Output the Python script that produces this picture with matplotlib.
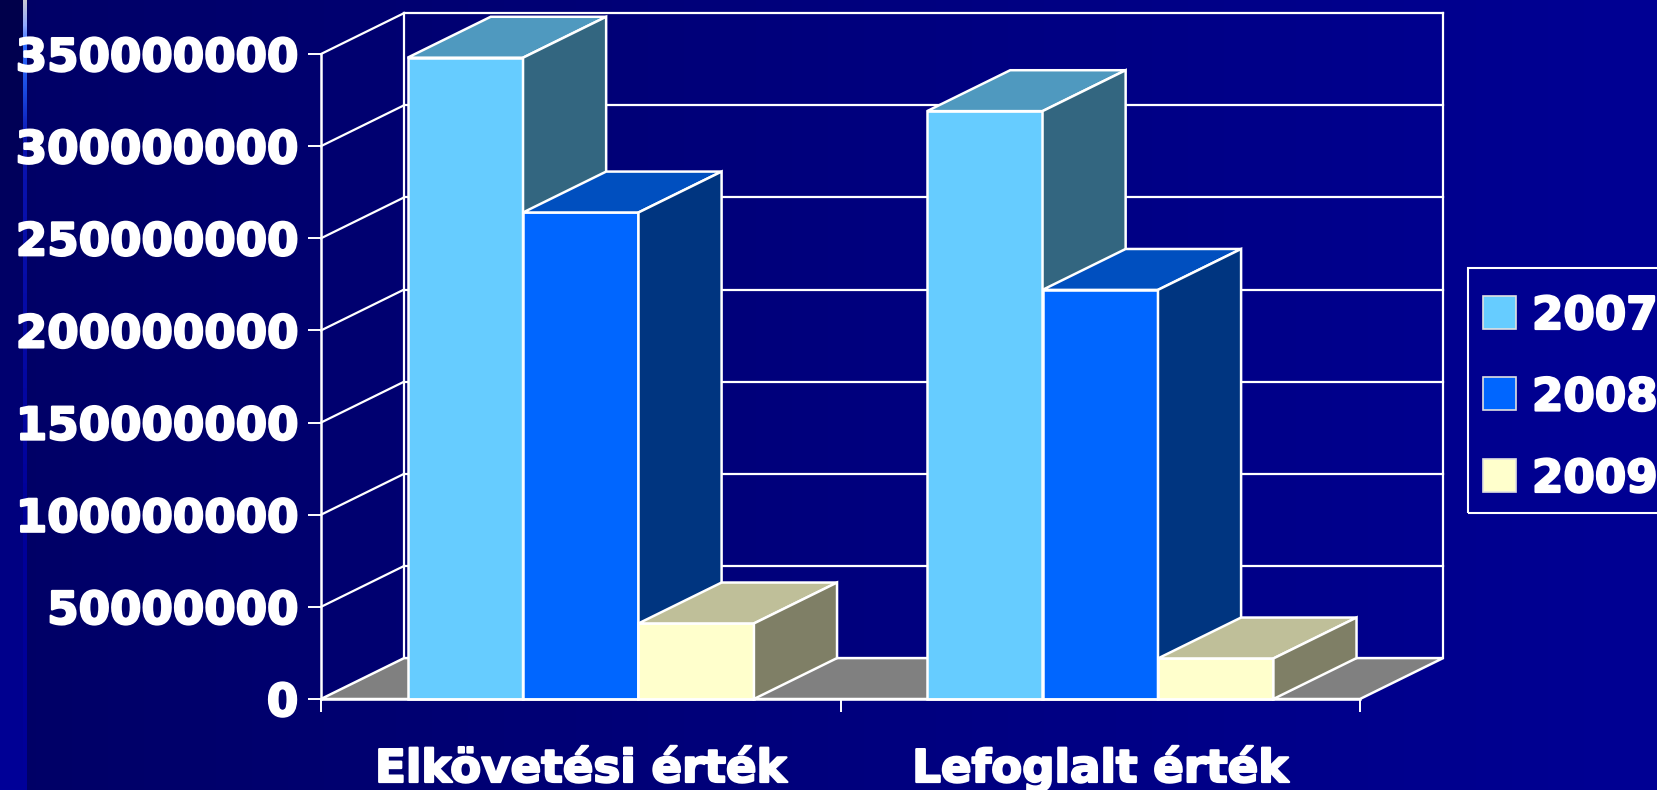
"""
plot.py -- 3D-style clustered columns: Elkövetési / Lefoglalt érték, 2007-2009.
"""
import matplotlib
matplotlib.use("Agg")
import matplotlib.pyplot as plt
import matplotlib.patheffects as pe
import numpy as np
from matplotlib.colors import to_rgb
from matplotlib.patches import Polygon, Rectangle

W, H = 1657, 790

CATEGORIES = ["Elkövetési érték", "Lefoglalt érték"]
YEARS = ["2007", "2008", "2009"]
V2007 = [348e6, 319e6]
V2008 = [264e6, 222e6]
V2009 = [41e6, 22e6]
SERIES = [V2007, V2008, V2009]

YTICKS = [0, 50e6, 100e6, 150e6, 200e6, 250e6, 300e6, 350e6]
YTICK_LABELS = ["0", "50000000", "100000000", "150000000", "200000000",
                "250000000", "300000000", "350000000"]

# front / top / side face colours per series
FRONT = ["#66CCFF", "#0066FF", "#FFFFCC"]
TOP = ["#4F99BF", "#004FBF", "#BFBF99"]
SIDE = ["#336680", "#003580", "#7F7F66"]
FLOOR = "#808080"

DX = 0.16      # depth offset, category units
DY = 22.2e6    # depth offset, value units
BAR_W = 2 / 9  # gap width 150% (Excel default)
GAP = 1 / 6
EDGE = dict(edgecolor="white", linewidth=1.8, joinstyle="miter", clip_on=False)

plt.rcParams["font.family"] = ["DejaVu Sans"]
plt.rcParams["font.weight"] = "bold"
FS = 32.5
# DejaVu Bold is lighter than the Arial Black look of the original
HEAVY = [pe.withStroke(linewidth=1.6, foreground="white")]


def px(x, y):
    """figure pixel (from top-left) -> figure fraction"""
    return x / W, 1 - y / H


def background(fig):
    bg = fig.add_axes([0, 0, 1, 1])
    bg.axis("off")
    c0, c1 = np.array(to_rgb("#000066")), np.array(to_rgb("#000094"))
    t = np.linspace(0, 1, W)[None, :, None]
    img = np.broadcast_to(c0 + (c1 - c0) * t, (H, W, 3)).copy()
    # darker-to-lighter band on the left edge of the slide
    b0, b1 = np.array(to_rgb("#00004A")), np.array(to_rgb("#000099"))
    s = np.linspace(0, 1, H)[:, None, None]
    img[:, :23] = b0 + (b1 - b0) * s
    # thin highlight line
    ys = [0, 25, 45, 90, 140, 520, H]
    cols = np.array([to_rgb(c) for c in ["#C8C8D4", "#8FA8FF", "#2F6BFF", "#1A4AE0",
                                         "#0A14B0", "#000099", "#000099"]])
    yy = np.arange(H)
    line = np.stack([np.interp(yy, ys, cols[:, k]) for k in range(3)], axis=1)
    img[:, 23:27] = line[:, None, :]
    bg.imshow(img, aspect="auto", extent=(0, W, H, 0), interpolation="nearest")
    bg.set_xlim(0, W)
    bg.set_ylim(H, 0)


def walls(ax):
    top = YTICKS[-1]
    for v in YTICKS[1:]:
        ax.plot([DX, 2 + DX], [v + DY, v + DY], color="white", lw=1.6, clip_on=False)
        ax.plot([0, DX], [v, v + DY], color="white", lw=1.6, clip_on=False)
    ax.plot([DX, DX], [DY, top + DY], color="white", lw=1.6, clip_on=False)
    ax.plot([2 + DX, 2 + DX], [DY, top + DY], color="white", lw=1.6, clip_on=False)
    ax.add_patch(Polygon([(0, 0), (2, 0), (2 + DX, DY), (DX, DY)], closed=True,
                         facecolor=FLOOR, zorder=2, **EDGE))


def box(ax, x0, h, j):
    x1 = x0 + BAR_W
    ax.add_patch(Rectangle((x0, 0), BAR_W, h, facecolor=FRONT[j], zorder=3, **EDGE))
    ax.add_patch(Polygon([(x0, h), (x1, h), (x1 + DX, h + DY), (x0 + DX, h + DY)],
                         closed=True, facecolor=TOP[j], zorder=3, **EDGE))
    ax.add_patch(Polygon([(x1, 0), (x1 + DX, DY), (x1 + DX, h + DY), (x1, h)],
                         closed=True, facecolor=SIDE[j], zorder=3, **EDGE))


def legend(fig):
    x0, y0 = px(1468, 268)
    x1, y1 = px(1700, 513)
    fig.patches.append(Rectangle((x0, y1), x1 - x0, y0 - y1, transform=fig.transFigure,
                                 facecolor="none", edgecolor="white", linewidth=1.5))
    for j, year in enumerate(YEARS):
        cy = 312 + 81.5 * j
        sx, sy = px(1483, cy + 16.5)
        fig.patches.append(Rectangle((sx, sy), 33 / W, 33 / H, transform=fig.transFigure,
                                     facecolor=FRONT[j], edgecolor="#E0E0E0", linewidth=1.2))
        tx, ty = px(1532, cy + 17)
        fig.text(tx, ty, year, color="white", fontsize=FS, fontweight="bold",
                 ha="left", va="baseline", path_effects=HEAVY)


def main():
    fig = plt.figure(figsize=(W / 100, H / 100), dpi=100)
    background(fig)

    ax = fig.add_axes([321 / W, (H - 699) / H, 1039 / W, 645 / H])
    ax.set_facecolor("none")
    ax.set_xlim(0, 2)
    ax.set_ylim(0, YTICKS[-1])

    walls(ax)
    for i in range(len(CATEGORIES)):
        for j, vals in enumerate(SERIES):
            box(ax, i + GAP + j * BAR_W, vals[i], j)

    for side in ["top", "right"]:
        ax.spines[side].set_visible(False)
    for side in ["left", "bottom"]:
        ax.spines[side].set_color("white")
        ax.spines[side].set_linewidth(1.8)
        ax.spines[side].set_zorder(4)
    ax.set_yticks(YTICKS, labels=YTICK_LABELS)
    ax.set_xticks([0, 1, 2], labels=["", "", ""])
    ax.tick_params(axis="both", direction="out", length=9.4, width=1.4, color="white",
                   labelcolor="white", labelsize=FS, pad=7)
    for lab in ax.get_yticklabels():
        lab.set_fontweight("bold")
        lab.set_path_effects(HEAVY)

    for i, cat in enumerate(CATEGORIES):
        ax.text(i + 0.5, -0.1287, cat, transform=ax.get_xaxis_transform(),
                ha="center", va="baseline", color="white", fontsize=FS,
                fontweight="bold", path_effects=HEAVY)

    legend(fig)
    fig.savefig("out.png", dpi=100)


if __name__ == "__main__":
    main()
